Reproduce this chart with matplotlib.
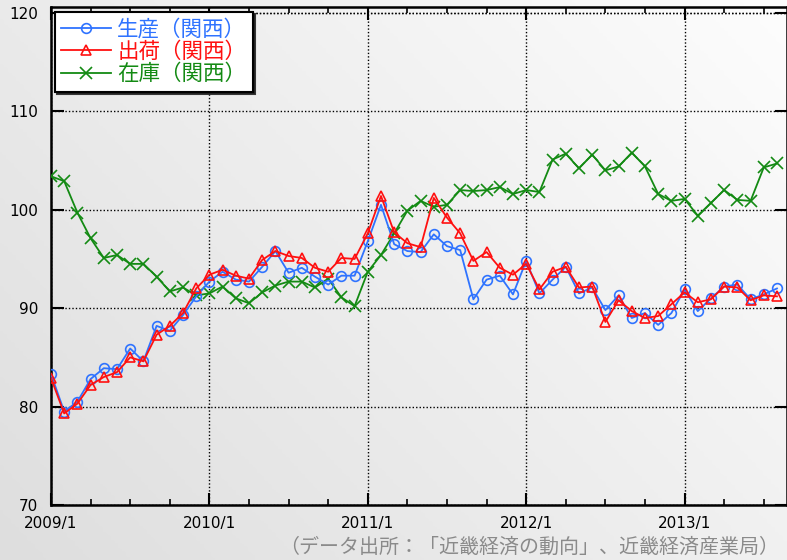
import numpy as np
import matplotlib
matplotlib.use("Agg")
import matplotlib.pyplot as plt
from matplotlib.ticker import MultipleLocator, FixedLocator

# ---- data (monthly, 2009/1 .. 2013/8) ----
production = [
    83.3, 79.5, 80.5, 82.8, 83.9, 83.8, 85.9, 84.6, 88.2, 87.7, 89.3, 91.2,
    92.7, 93.7, 92.9, 92.7, 94.2, 95.8, 93.6, 94.1, 93.2, 92.4, 93.3, 93.3,
    96.8, 100.5, 96.5, 95.8, 95.7, 97.5, 96.3, 95.9, 90.9, 92.9, 93.3, 91.4,
    94.8, 91.5, 92.9, 94.2, 91.5, 92.1, 89.8, 91.3, 89.0, 89.5, 88.3, 89.5,
    91.9, 89.7, 91.0, 92.2, 92.4, 90.9, 91.4, 92.0,
]
shipments = [
    82.9, 79.3, 80.3, 82.2, 83.0, 83.5, 85.0, 84.6, 87.3, 88.2, 89.5, 92.0,
    93.4, 93.9, 93.3, 93.0, 94.9, 95.8, 95.3, 95.1, 94.1, 93.7, 95.1, 95.0,
    97.6, 101.4, 97.7, 96.6, 96.2, 101.2, 99.2, 97.6, 94.8, 95.7, 94.1, 93.4,
    94.5, 91.9, 93.7, 94.2, 92.1, 92.2, 88.6, 90.8, 89.7, 89.0, 89.2, 90.4,
    91.6, 90.6, 90.9, 92.2, 92.1, 90.8, 91.3, 91.2,
]
inventory = [
    103.4, 102.9, 99.7, 97.1, 95.1, 95.4, 94.5, 94.5, 93.2, 91.7, 92.1, 91.3,
    91.5, 92.2, 91.0, 90.5, 91.6, 92.3, 92.7, 92.7, 92.1, 93.0, 91.1, 90.2,
    93.7, 95.4, 97.6, 99.9, 100.9, 100.3, 100.5, 102.0, 101.9, 102.0, 102.3, 101.6,
    102.0, 101.8, 105.1, 105.7, 104.2, 105.6, 104.0, 104.4, 105.8, 104.4, 101.6, 100.9,
    101.1, 99.4, 100.7, 102.0, 101.0, 100.9, 104.3, 104.7,
]
series_labels = ["生産（関西）", "出荷（関西）", "在庫（関西）"]
year_tick_labels = ["2009/1", "2010/1", "2011/1", "2012/1", "2013/1"]
y_ticks = [70, 80, 90, 100, 110, 120]
source_text = "（データ出所：「近畿経済の動向」、近畿経済産業局）"

months = np.arange(len(production))

fig = plt.figure(figsize=(7.87, 5.6), dpi=100)

# background gradient
bg = fig.add_axes([0, 0, 1, 1], zorder=-10)
gx, gy = np.meshgrid(np.linspace(0, 1, 200), np.linspace(0, 1, 200))
grad = 0.6 * gx + 0.4 * gy
bg.imshow(grad, cmap=matplotlib.colors.LinearSegmentedColormap.from_list(
    "g", ["#dedede", "#fdfdfd"]), extent=[0, 1, 0, 1], origin="lower",
    aspect="auto")
bg.set_axis_off()

ax = fig.add_axes([51 / 787, 55 / 560, 736 / 787, 498 / 560])
ax.set_facecolor("none")

blue = "#2f73ff"
red = "#ff1010"
green = "#138a13"

ax.plot(months, inventory, color=green, lw=1.3, marker="x", ms=8, mew=1.2,
        label=series_labels[2], zorder=3)
ax.plot(months, production, color=blue, lw=1.3, marker="o", ms=7, mew=1.2,
        mfc="none", label=series_labels[0], zorder=4)
ax.plot(months, shipments, color=red, lw=1.3, marker="^", ms=7, mew=1.2,
        mfc="none", label=series_labels[1], zorder=5)

ax.set_xlim(0, 55.76)
ax.set_ylim(70, 120.6)

ax.xaxis.set_major_locator(FixedLocator([0, 12, 24, 36, 48]))
ax.xaxis.set_minor_locator(MultipleLocator(3))
ax.set_xticklabels(year_tick_labels)
ax.set_yticks(y_ticks)

ax.tick_params(axis="both", which="major", direction="in", length=9, width=1.5,
               top=True, right=True, labelsize=10.5, colors="black")
ax.tick_params(axis="both", which="minor", direction="in", length=4, width=1.2,
               top=True, right=True)
ax.tick_params(axis="x", pad=8)
ax.tick_params(axis="y", pad=9)
for lab in ax.get_xticklabels() + ax.get_yticklabels():
    lab.set_family(["Liberation Sans Narrow", "DejaVu Sans"])
    lab.set_fontsize(11)

for s in ax.spines.values():
    s.set_linewidth(1.8)
    s.set_color("black")

ax.grid(True, which="major", color="black", lw=1.0, linestyle=(0, (1, 1.5)))
ax.axhline(120, color="black", lw=1.0, linestyle=(0, (1, 1.5)), zorder=2)

handles, labels = ax.get_legend_handles_labels()
order = [1, 2, 0]
leg = ax.legend([handles[i] for i in order], [labels[i] for i in order],
                loc="upper left", bbox_to_anchor=(0.005, 0.99),
                borderaxespad=0, fancybox=False, framealpha=1,
                edgecolor="black", handlelength=2.3, handletextpad=0.3,
                borderpad=0.3, labelspacing=0.02,
                prop={"family": ["Noto Sans CJK JP", "DejaVu Sans"], "size": 15.5},
                shadow={"color": "#222222", "alpha": 0.9, "ox": 1.5, "oy": -1.5})
leg.get_frame().set_linewidth(1.5)
for txt, c in zip(leg.get_texts(), [blue, red, green]):
    txt.set_color(c)

fig.text(279 / 787, 1 - 547 / 560, source_text, ha="left", va="center",
         fontsize=14.4, color="#8a8a8a",
         family=["Noto Sans CJK JP", "DejaVu Sans"])

fig.savefig("out.png", dpi=100)
